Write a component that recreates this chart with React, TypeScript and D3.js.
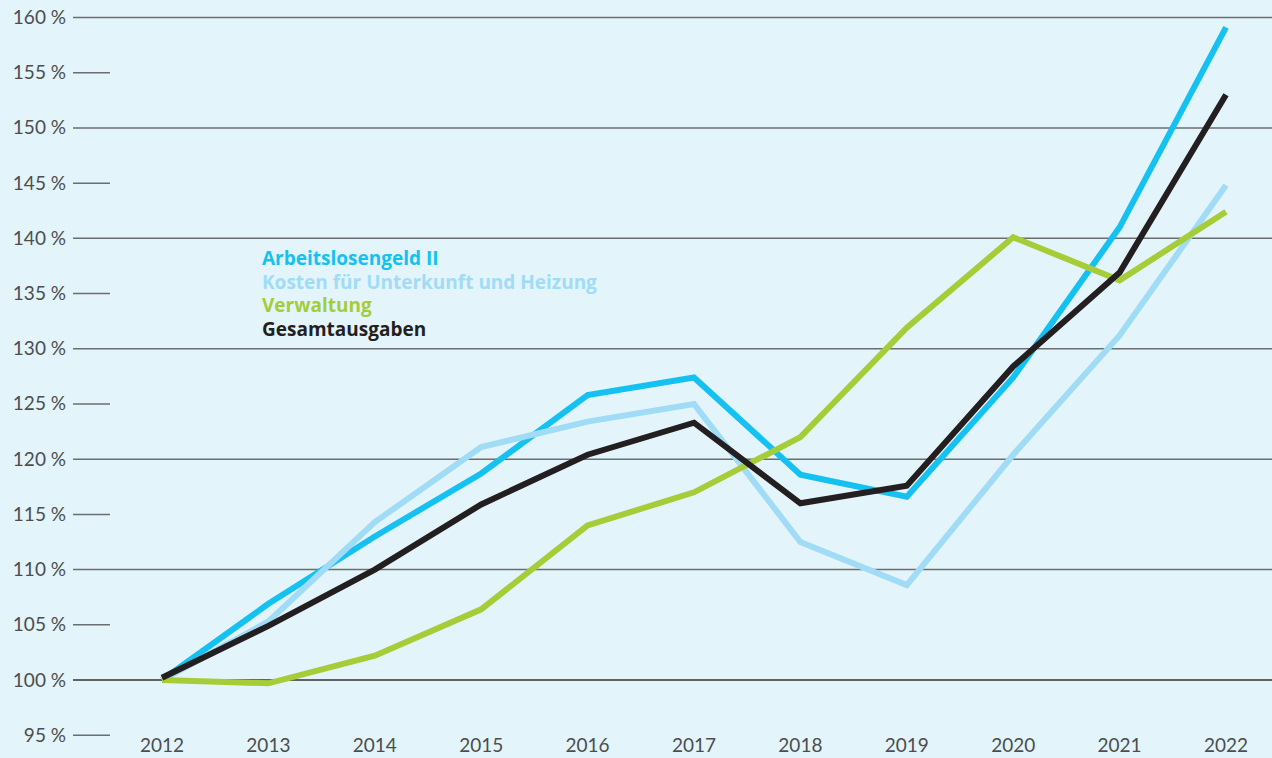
import React, { useEffect, useRef } from 'react';
import * as d3 from 'd3';

const years = [2012, 2013, 2014, 2015, 2016, 2017, 2018, 2019, 2020, 2021, 2022];
const yTicks = [95, 100, 105, 110, 115, 120, 125, 130, 135, 140, 145, 150, 155, 160];

const alg2 = [100, 106.9, 113.0, 118.7, 125.8, 127.4, 118.6, 116.6, 127.4, 141.0, 159.1];
const kdu = [100, 105.3, 114.3, 121.1, 123.4, 125.0, 112.5, 108.6, 120.4, 131.2, 144.8];
const verwaltung = [100, 99.7, 102.2, 106.4, 114.0, 117.0, 122.0, 131.9, 140.1, 136.2, 142.4];
const gesamt = [100.2, 104.9, 110.0, 115.9, 120.4, 123.3, 116.0, 117.6, 128.4, 136.9, 153.0];

const seriesNames = ['Arbeitslosengeld II', 'Kosten für Unterkunft und Heizung', 'Verwaltung', 'Gesamtausgaben'];
const seriesColors = ['#14c1f1', '#a0dcf6', '#a6cd37', '#231f20'];

const App = () => {
    const svgRef = useRef<SVGSVGElement>(null);

    useEffect(() => {
        const svg = d3.select(svgRef.current);
        svg.selectAll('*').remove();

        const width = 1272;
        const height = 758;
        const font = "Lato, 'Open Sans', sans-serif";

        svg.append('rect').attr('width', width).attr('height', height).attr('fill', '#e3f4fb');

        const x = d3.scaleLinear().domain([2012, 2022]).range([162, 1226]);
        const y = d3.scaleLinear().domain([100, 160]).range([680, 17.5]);

        // grid lines and short ticks
        const grid = svg.append('g');
        yTicks.forEach(t => {
            const full = t % 10 === 0;
            grid.append('line')
                .attr('x1', 73)
                .attr('x2', full ? width : 110)
                .attr('y1', y(t))
                .attr('y2', y(t))
                .attr('stroke', t === 100 ? '#333' : '#6b6e70')
                .attr('stroke-width', 1.5);
            grid.append('text')
                .attr('x', 66)
                .attr('y', y(t) + 6.5)
                .attr('text-anchor', 'end')
                .attr('font-family', font)
                .attr('font-size', 19)
                .attr('fill', '#4d4d4d')
                .text(`${t} %`);
        });

        svg.append('g').selectAll('text')
            .data(years)
            .join('text')
            .attr('x', d => x(d))
            .attr('y', 752)
            .attr('text-anchor', 'middle')
            .attr('font-family', font)
            .attr('font-size', 19)
            .attr('fill', '#4d4d4d')
            .text(d => d);

        const line = d3.line<number>()
            .x((_, i) => x(years[i]))
            .y(d => y(d))
            .curve(d3.curveLinear);

        [alg2, kdu, verwaltung, gesamt].forEach((s, i) => {
            svg.append('path')
                .datum(s)
                .attr('fill', 'none')
                .attr('stroke', seriesColors[i])
                .attr('stroke-width', 6)
                .attr('stroke-linejoin', 'miter')
                .attr('d', line);
        });

        const legend = svg.append('g');
        seriesNames.forEach((name, i) => {
            legend.append('text')
                .attr('x', 262)
                .attr('y', 265 + i * 23.7)
                .attr('font-family', "'Open Sans', sans-serif")
                .attr('font-size', 19)
                .attr('font-weight', 'bold')
                .attr('fill', seriesColors[i])
                .text(name);
        });
    }, []);

    return (
        <svg ref={svgRef} width={1272} height={758} style={{ position: 'fixed', top: 0, left: 0 }}></svg>
    );
};

export default App;
